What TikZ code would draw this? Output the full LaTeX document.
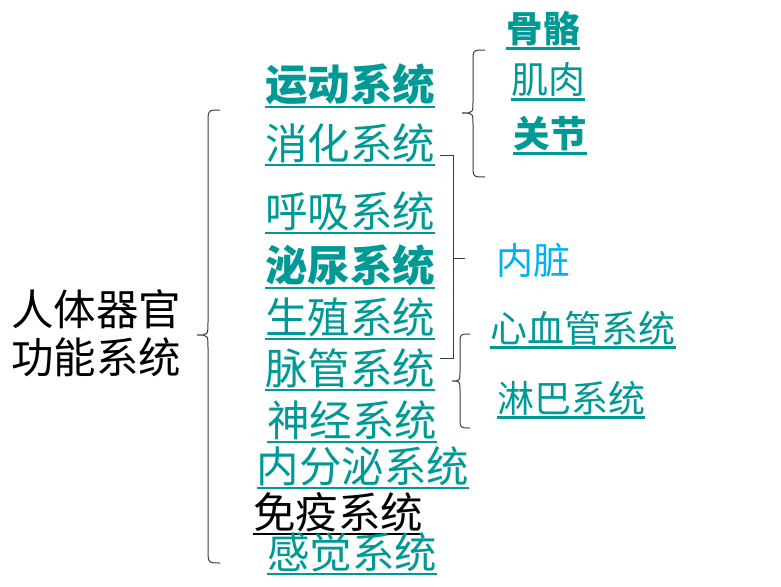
\documentclass[tikz,border=0pt]{standalone}
\usepackage{fontspec}
\newfontfamily\cjk{Noto Sans CJK SC}
\definecolor{teal1}{RGB}{0,153,150}
\definecolor{sky1}{RGB}{0,176,240}
\definecolor{brc}{RGB}{60,60,60}
\tikzset{
  sys/.style={font=\cjk\fontsize{42.5}{46}\selectfont, text=teal1, inner sep=0pt, anchor=center},
  sub/.style={font=\cjk\fontsize{37}{42}\selectfont, text=teal1, inner sep=0pt, anchor=center},
  bf/.style={font=\cjk\bfseries\fontsize{42.5}{46}\selectfont},
  bfs/.style={font=\cjk\bfseries\fontsize{36.5}{42}\selectfont},
  ul/.style={append after command={([yshift=-2pt]\tikzlastnode.south west) edge[draw=#1,line width=2.5pt] ([yshift=-2pt]\tikzlastnode.south east)}},
  ul/.default=teal1,
  brace/.style={draw=brc, line width=1pt},
}
\begin{document}
\begin{tikzpicture}[x=1pt,y=-1pt]
\useasboundingbox (0,0) rectangle (781,586);
% title
\node[font=\cjk\fontsize{42.5}{48}\selectfont, align=left, inner sep=0pt] (title) at (96,333) {人体器官\\功能系统};
% systems
\node[sys,bf,ul] (yd) at (350,84) {运动系统};
\node[sys,ul] (xh) at (350,143) {消化系统};
\node[sys,ul] (hx) at (350,211) {呼吸系统};
\node[sys,bf,ul] (mn) at (350,265) {泌尿系统};
\node[sys,ul] (sz) at (350,317) {生殖系统};
\node[sys,ul] (mg) at (350,368) {脉管系统};
\node[sys,ul] (sj) at (352,420) {神经系统};
\node[sys,ul] (nf) at (363,466) {内分泌系统};
\node[sys,text=black,ul=black] (my) at (338,512) {免疫系统};
\node[sys,ul] (gj) at (352,552) {感觉系统};
% sub items
\node[sub,bfs,ul] (gg) at (543,29) {骨骼};
\node[sub,ul] (jr) at (548,80) {肌肉};
\node[sub,bfs,ul] (gjie) at (550,134) {关节};
\node[sub,text=sky1] (nz) at (533,260) {内脏};
\node[sub,ul] (xxg) at (583,328) {心血管系统};
\node[sub,ul] (lb) at (571,398) {淋巴系统};
% big brace
\draw[brace] (220,110) .. controls (208,110) .. (208,124) -- (208,322) .. controls (208,335) .. (197,335) .. controls (208,335) .. (208,348) -- (208,549) .. controls (208,563) .. (220,563);
% brace for motor system
\draw[brace] (485,50) .. controls (473,50) .. (473,62) -- (473,101) .. controls (473,113) .. (462,113) .. controls (473,113) .. (473,125) -- (473,165) .. controls (473,177) .. (485,177);
% bracket for viscera
\draw[brace] (440,155) -- (453,155) -- (453,358) -- (440,358);
\draw[brace] (453,258) -- (465,258);
% brace for vascular
\draw[brace] (470,334) .. controls (460,334) .. (460,344) -- (460,371) .. controls (460,381) .. (452,381) .. controls (460,381) .. (460,391) -- (460,418) .. controls (460,428) .. (470,428);
\end{tikzpicture}
\end{document}
